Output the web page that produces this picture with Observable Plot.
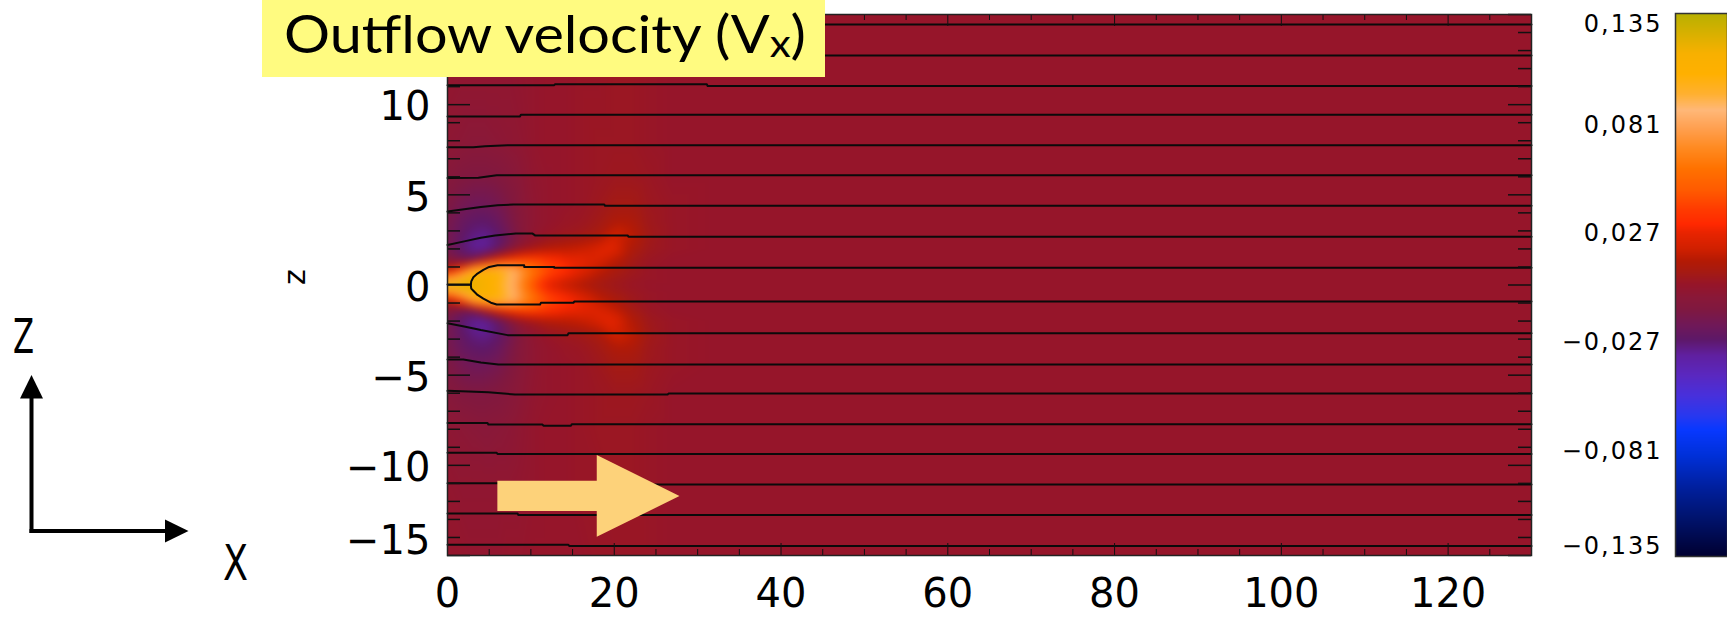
<!DOCTYPE html>
<html>
<head>
<meta charset="utf-8">
<script src="https://cdn.jsdelivr.net/npm/d3@7"></script>
<script src="https://cdn.jsdelivr.net/npm/@observablehq/plot@0.6"></script>
<style>
  html, body { margin: 0; padding: 0; background: #fff; }
  #fig { position: relative; width: 1727px; height: 627px; overflow: hidden; background: #fff; }
  #main, #cbar, #gizmo, #title { position: absolute; top: 0; }
  #main { left: 0; }
  #cbar { left: 1540px; }
  #gizmo { left: 0; }
  #title { left: 262px; }
  #cbar text { letter-spacing: 2px; }
</style>
</head>
<body>
<div id="fig">
  <div id="main"></div>
  <div id="cbar"></div>
  <svg id="gizmo" width="260" height="627">
    <line x1="31.5" y1="396" x2="31.5" y2="533" stroke="#000" stroke-width="4"/>
    <polygon points="31.5,375 20,398.5 43,398.5" fill="#000"/>
    <line x1="29.5" y1="531" x2="167" y2="531" stroke="#000" stroke-width="4"/>
    <polygon points="188.5,531 165,519.5 165,542.5" fill="#000"/>
    <text x="13" y="353" font-size="48" textLength="21" lengthAdjust="spacingAndGlyphs" font-family="'DejaVu Sans Condensed', 'Liberation Sans Narrow', sans-serif">Z</text>
    <text x="223" y="580" font-size="50" textLength="25" lengthAdjust="spacingAndGlyphs" font-family="'DejaVu Sans Condensed', 'Liberation Sans Narrow', sans-serif">X</text>
  </svg>
  <svg id="title" width="563" height="77">
    <rect x="0" y="0" width="563" height="77" fill="#fffb80"/>
    <text x="22" y="53" font-family="Lato, 'Open Sans', sans-serif" font-size="52" textLength="522" lengthAdjust="spacingAndGlyphs">Outflow velocity (V<tspan font-size="38" dy="4">x</tspan><tspan dy="-4">)</tspan></text>
  </svg>
</div>
<script>
// Grid of the outflow velocity Vx (in units of 1e-3) sampled on the x–z plane.
const xs = [0, 1.5, 3, 4.5, 6, 7.5, 9, 10.5, 12, 14, 16, 18, 20, 22, 24, 27, 32, 40, 130];
const zs = [15, 11, 8, 6, 4.5, 3.5, 2.7, 2, 1.4, 0.8, 0.4, 0, -0.4, -0.8, -1.4, -2, -2.7, -3.5, -4.5, -6, -8, -11, -15];
const vxMilli = [
  [ -1,  -1,  -2,  -2,  -2,  -1,  -1,   0,   0,   0,   0,   1,   1,   1,   1,   0,   0,   0,   0],
  [ -2,  -3,  -3,  -3,  -3,  -3,  -2,  -1,   0,   0,   1,   1,   2,   2,   1,   0,   0,   0,   0],
  [ -4,  -5,  -6,  -6,  -5,  -4,  -3,  -1,   0,   0,   1,   2,   2,   2,   1,   0,   0,   0,   0],
  [ -8, -11, -12, -12, -11,  -8,  -5,  -2,  -1,   0,   1,   2,   3,   3,   2,   0,   0,   0,   0],
  [-12, -17, -20, -20, -17, -12,  -6,  -3,  -1,   0,   1,   3,   6,   6,   3,   1,   0,   0,   0],
  [-15, -22, -26, -27, -23, -15,  -7,  -3,  -1,   1,   2,   5,  10,  10,   4,   1,   0,   0,   0],
  [-16, -25, -31, -33, -28, -18,  -7,  -2,   1,   3,   5,   8,  20,  14,   5,   1,   0,   0,   0],
  [-15, -27, -34, -35, -27, -12,   0,   6,  11,  14,  17,  22,  24,  10,   4,   1,   0,   0,   0],
  [ -8, -16, -18,   4,  24,  34,  40,  40,  34,  28,  26,  22,  14,   6,   2,   0,   0,   0,   0],
  [ 18,  45,  98, 110, 106,  92,  72,  56,  43,  33,  24,  15,   8,   4,   1,   0,   0,   0,   0],
  [ 70,  95, 115, 114, 105,  90,  68,  50,  34,  25,  18,  11,   6,   3,   1,   0,   0,   0,   0],
  [128, 128, 120, 113, 102,  88,  62,  40,  22,  14,   9,   5,   3,   1,   0,   0,   0,   0,   0],
  [ 70,  95, 115, 114, 105,  90,  68,  50,  34,  25,  18,  11,   6,   3,   1,   0,   0,   0,   0],
  [ 18,  45,  98, 110, 106,  92,  72,  56,  43,  33,  24,  15,   9,   4,   1,   0,   0,   0,   0],
  [ -8, -16, -18,   4,  24,  34,  40,  40,  34,  28,  26,  23,  16,   7,   2,   0,   0,   0,   0],
  [-15, -27, -34, -35, -27, -12,   0,   5,  10,  13,  16,  21,  25,  12,   4,   1,   0,   0,   0],
  [-16, -25, -31, -33, -28, -18,  -7,  -2,   1,   3,   5,   8,  20,  15,   5,   1,   0,   0,   0],
  [-15, -22, -26, -27, -23, -15,  -7,  -3,  -1,   1,   2,   5,  10,  10,   4,   1,   0,   0,   0],
  [-12, -17, -20, -20, -17, -12,  -6,  -3,  -1,   0,   1,   3,   6,   6,   3,   1,   0,   0,   0],
  [ -8, -11, -12, -12, -11,  -8,  -5,  -2,  -1,   0,   1,   2,   3,   3,   2,   0,   0,   0,   0],
  [ -4,  -5,  -6,  -7,  -6,  -5,  -3,  -1,   0,   0,   1,   2,   2,   2,   1,   0,   0,   0,   0],
  [ -2,  -3,  -3,  -3,  -3,  -3,  -2,  -1,   0,   0,   1,   1,   2,   2,   1,   0,   0,   0,   0],
  [ -1,  -1,  -2,  -2,  -2,  -1,  -1,   0,   0,   0,   0,   1,   1,   1,   1,   0,   0,   0,   0]
];

// Magnetic field lines (x, z) traced across the domain.
const fieldLines = [
  [[0, 14.36], [14, 14.36], [14.1, 14.44], [130, 14.44]],
  [[0, 12.66], [10, 12.66], [10.1, 12.72], [130, 12.72]],
  [[0, 11.08], [12.8, 11.08], [12.9, 11.13], [31.1, 11.13], [31.2, 11.03], [130, 11.03]],
  [[0, 9.35], [8.7, 9.35], [8.8, 9.44], [130, 9.44]],
  [[0, 7.64], [3.1, 7.64], [4.5, 7.7], [7.2, 7.75], [130, 7.75]],
  [[0, 5.93], [3.7, 5.95], [5.9, 6.08], [130, 6.08]],
  [[0, 4.07], [2, 4.2], [4, 4.32], [6, 4.42], [7.9, 4.46], [18.8, 4.46], [18.9, 4.39], [130, 4.39]],
  [[0, 2.22], [2, 2.42], [4, 2.62], [5.7, 2.75], [8.2, 2.85], [10.2, 2.85], [10.5, 2.75], [21.6, 2.75], [21.7, 2.68], [130, 2.68]],
  [[130, 0.95], [12.8, 0.95], [12.8, 1.0], [9.2, 1.0], [9.2, 1.1], [6, 1.1], [5, 1.0], [4.3, 0.84], [3.5, 0.6],
   [3.1, 0.43], [2.85, 0.2], [2.8, 0], [2.85, -0.2], [3.1, -0.32], [3.6, -0.55], [4.3, -0.76], [5.2, -0.98],
   [5.9, -1.08], [11.1, -1.08], [11.2, -0.99], [15.1, -0.99], [15.2, -0.92], [130, -0.92]],
  [[0, 0.03], [2.8, 0.03]],
  [[0, -2.12], [2, -2.3], [4, -2.5], [7.2, -2.78], [14.4, -2.78], [14.5, -2.68], [130, -2.68]],
  [[0, -4.13], [1.9, -4.13], [4, -4.3], [6.1, -4.41], [130, -4.41]],
  [[0, -5.87], [2.5, -5.9], [4.9, -5.95], [8.1, -6.07], [26.4, -6.07], [26.5, -6.02], [130, -6.02]],
  [[0, -7.65], [4.8, -7.65], [4.9, -7.74], [11.4, -7.74], [11.5, -7.8], [14.8, -7.8], [14.9, -7.72], [130, -7.72]],
  [[0, -9.3], [5.9, -9.3], [6, -9.37], [130, -9.37]],
  [[0, -11.0], [20, -11.0], [20.1, -11.06], [130, -11.06]],
  [[0, -12.67], [8.4, -12.67], [8.5, -12.76], [130, -12.76]],
  [[0, -14.4], [14.5, -14.4], [14.6, -14.47], [130, -14.47]]
];

// Block arrow showing the outflow direction: x positions with lower and upper z edges.
const arrowX = [6.04, 17.96, 17.96, 27.88];
const arrowLo = [-12.56, -12.56, -13.99, -11.73];
const arrowHi = [-10.88, -10.88, -9.46, -11.73];

// Colour table of the Vx scale.
const colorStops = [-0.135, -0.115, -0.1, -0.085, -0.072, -0.065, -0.055, -0.045, -0.035, -0.027, -0.02, -0.012, -0.006, 0,
                    0.006, 0.012, 0.018, 0.026, 0.03, 0.038, 0.047, 0.058, 0.068, 0.078, 0.087, 0.095, 0.105, 0.115, 0.125, 0.135];
const colorRamp = ["#000030", "#001470", "#0020a0", "#0030d8", "#0838ff", "#2838f0", "#4830dc", "#5a28c0", "#6020a0", "#5e1868", "#701858", "#801840", "#8a1838", "#96152a",
                   "#a41a14", "#b41a04", "#d02000", "#e82400", "#ff2800", "#ff3c00", "#ff5a00", "#ff7200", "#ff8a20", "#ffa050", "#ffb878", "#ffb030", "#ffb000", "#f8b000", "#d8b000", "#b8b000"];

// Axis ticks and labels.
const xLabels = [0, 20, 40, 60, 80, 100, 120];
const xMinor = [5, 10, 15, 25, 30, 35, 45, 50, 55, 65, 70, 75, 85, 90, 95, 105, 110, 115, 125];
const zLabels = [10, 5, 0, -5, -10, -15];
const zMajor = [-15, -10, -5, 0, 5, 10, 15];
const zMinor = d3.range(-14, 15).filter(d => d % 5 !== 0);
const cbarLabels = [0.135, 0.081, 0.027, -0.027, -0.081, -0.135];

const cells = zs.flatMap((z, i) => xs.map((x, j) => ({x, z, v: vxMilli[i][j] / 1000})));
const linePoints = fieldLines.flatMap((pts, id) => pts.map(([x, z]) => ({id, x, z})));
const arrowOutline = arrowX.map((x, i) => ({x, lo: arrowLo[i], hi: arrowHi[i]}));

const colorScale = {type: "linear", domain: colorStops, range: colorRamp, clamp: true};
const minus = s => String(s).replace("-", "\u2212");
const fmtBar = d3.formatLocale({decimal: ",", thousands: ".", grouping: [3], currency: ["", ""], minus: "\u2212"}).format(".3f");

const frameW = 1531 - 447, frameH = 555 - 14;
const axisFont = "DejaVu Sans, sans-serif";

const main = Plot.plot({
  width: 1560, height: 627,
  marginLeft: 447, marginRight: 29, marginTop: 14, marginBottom: 72,
  x: {domain: [0, 130], axis: null},
  y: {domain: [-15, 15], axis: null},
  color: colorScale,
  style: {background: "transparent", fontFamily: axisFont, color: "#000"},
  marks: [
    Plot.raster(cells, {x: "x", y: "z", fill: "v", interpolate: "barycentric", x1: 0, x2: 130, y1: -15, y2: 15, pixelSize: 1, blur: 4}),
    Plot.line(linePoints, {x: "x", y: "z", z: "id", stroke: "#0a0a0a", strokeWidth: 2}),
    Plot.areaY(arrowOutline, {x: "x", y1: "lo", y2: "hi", fill: "#fdd27a", curve: "linear"}),
    // ticks on all four sides, pointing inward
    Plot.tickX(xLabels, {x: d => d, insetTop: frameH - 12, stroke: "#111"}),
    Plot.tickX(xMinor, {x: d => d, insetTop: frameH - 6, stroke: "#111"}),
    Plot.tickX(xLabels, {x: d => d, insetBottom: frameH - 12, stroke: "#111"}),
    Plot.tickX(xMinor, {x: d => d, insetBottom: frameH - 6, stroke: "#111"}),
    Plot.tickY(zMajor, {y: d => d, insetRight: frameW - 23, stroke: "#111", strokeWidth: 1.5}),
    Plot.tickY(zMinor, {y: d => d, insetRight: frameW - 13, stroke: "#111", strokeWidth: 1.5}),
    Plot.tickY(zMajor, {y: d => d, insetLeft: frameW - 23, stroke: "#111", strokeWidth: 1.5}),
    Plot.tickY(zMinor, {y: d => d, insetLeft: frameW - 13, stroke: "#111", strokeWidth: 1.5}),
    Plot.frame({stroke: "#222", strokeWidth: 1.5}),
    Plot.text(xLabels, {x: d => d, frameAnchor: "bottom", dy: 51, fontSize: 40, text: d => String(d)}),
    Plot.text(zLabels.filter(d => d > -15), {y: d => d, frameAnchor: "left", dx: -17, dy: 3, textAnchor: "end", fontSize: 40, text: minus}),
    Plot.text(zLabels.filter(d => d === -15), {y: d => d, frameAnchor: "left", dx: -17, dy: -14, textAnchor: "end", fontSize: 40, text: minus}),
    Plot.text(["z"], {frameAnchor: "left", dx: -152, rotate: -90, fontSize: 30})
  ]
});
document.getElementById("main").append(main);

const cbar = Plot.plot({
  width: 187, height: 627,
  marginLeft: 135, marginRight: 0, marginTop: 13, marginBottom: 71,
  x: {domain: [0, 1], axis: null},
  y: {domain: [-0.135, 0.135], axis: null},
  color: colorScale,
  style: {background: "transparent", fontFamily: axisFont, color: "#000"},
  marks: [
    Plot.raster({fill: (x, y) => y, x1: 0, x2: 1, y1: -0.135, y2: 0.135, width: 1, height: 543}),
    Plot.frame({stroke: "#333", strokeWidth: 1.5}),
    Plot.text(cbarLabels.filter(d => Math.abs(d) < 0.1), {y: d => d, frameAnchor: "left", dx: -13, dy: 3, textAnchor: "end", fontSize: 24, text: fmtBar}),
    Plot.text(cbarLabels.filter(d => d > 0.1), {y: d => d, frameAnchor: "left", dx: -13, dy: 11, textAnchor: "end", fontSize: 24, text: fmtBar}),
    Plot.text(cbarLabels.filter(d => d < -0.1), {y: d => d, frameAnchor: "left", dx: -13, dy: -10, textAnchor: "end", fontSize: 24, text: fmtBar})
  ]
});
document.getElementById("cbar").append(cbar);
</script>
</body>
</html>
